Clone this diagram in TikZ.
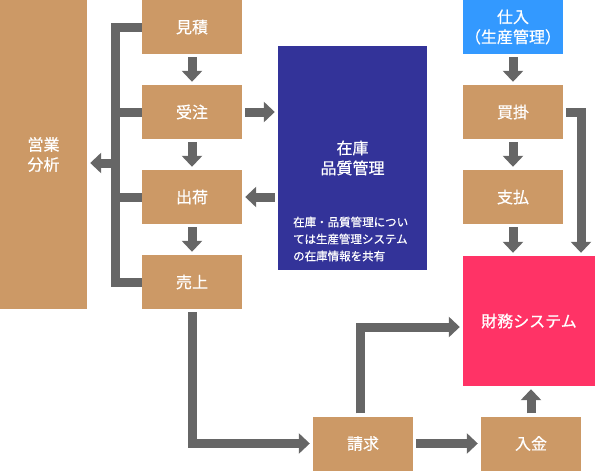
\documentclass[tikz,border=0pt]{standalone}
\usepackage{fontspec}
\setmainfont{Noto Sans CJK JP}[FakeBold=0.6]
\usetikzlibrary{arrows.meta}
\definecolor{boxtan}{HTML}{CC9966}
\definecolor{stockblue}{HTML}{333399}
\definecolor{buyblue}{HTML}{3399FF}
\definecolor{moneypink}{HTML}{FF3366}
\definecolor{pipegray}{HTML}{666666}
\tikzset{
  box/.style={fill=boxtan, text=white, minimum width=100pt, minimum height=54pt,
    inner sep=0pt, align=center, font=\fontsize{16}{20}\selectfont},
  flow/.style={draw=pipegray, line width=9pt, -{Triangle[length=11pt,width=20pt]},
    shorten <=3pt, shorten >=3pt},
  pipe/.style={draw=pipegray, line width=9pt},
}
\begin{document}
\begin{tikzpicture}[x=1pt,y=-1pt]
  \useasboundingbox (0,0) rectangle (595,471);
	% sales side
	\node[box, minimum width=87pt, minimum height=309pt] (eigyo) at (43.5,154.5) {営業\\分析};
	\node[box] (mitsumori) at (192, 27) {見積};
	\node[box] (juchu)     at (192,112) {受注};
	\node[box] (shukka)    at (192,197) {出荷};
	\node[box] (uriage)    at (192,282) {売上};
	% stock
	\node[box, fill=stockblue, minimum width=149pt, minimum height=224pt] (zaiko) at (352.5,158) {在庫\\品質管理};
	\node[text=white, anchor=west, align=left, inner sep=0pt, font=\fontsize{11.5}{17}\selectfont]
	  (zaikonote) at (293,239) {在庫・品質管理につい\\ては生産管理システム\\の在庫情報を共有};
	% purchase side
	\node[box, fill=buyblue] (shiire) at (513, 27) {仕入\\（生産管理）};
	\node[box] (kaikake)  at (513,112) {買掛};
	\node[box] (shiharai) at (513,197) {支払};
	\node[box, fill=moneypink, minimum width=132pt, minimum height=130pt] (zaimu) at (529,321) {財務システム};
	% billing
	\node[box] (seikyu) at (363,443.5) {請求};
	\node[box] (nyukin) at (531,443.5) {入金};
	\coordinate (spine) at (115.5,163);

	\draw[flow] (mitsumori) -- (juchu);
	\draw[flow] (juchu) -- (shukka);
	\draw[flow] (shukka) -- (uriage);
	\draw[pipe] (mitsumori.west) -| (spine) |- (uriage.west);
	\draw[pipe] (juchu.west) -- (juchu.west -| spine);
	\draw[pipe] (shukka.west) -- (shukka.west -| spine);
	\draw[flow, shorten <=0pt] (spine) -- (eigyo.east |- spine);
	\draw[flow] (juchu.east) -- (juchu.east -| zaiko.west);
	\draw[flow] (shukka.east -| zaiko.west) -- (shukka.east);
	\draw[flow] (shiire) -- (kaikake);
	\draw[flow] (kaikake) -- (shiharai);
	\draw[flow] (shiharai.south) -- (shiharai.south |- zaimu.north);
	\draw[flow] (kaikake.east) -| ([xshift=52pt]zaimu.north);
	\draw[flow] (uriage.south) |- (seikyu.west);
	\draw[flow] (seikyu) -- (nyukin);
	\draw[flow] ([xshift=-3pt]seikyu.north) |- ([yshift=-6pt]zaimu.west);
	\draw[flow] (nyukin.north) -- (nyukin.north |- zaimu.south);
\end{tikzpicture}
\end{document}
